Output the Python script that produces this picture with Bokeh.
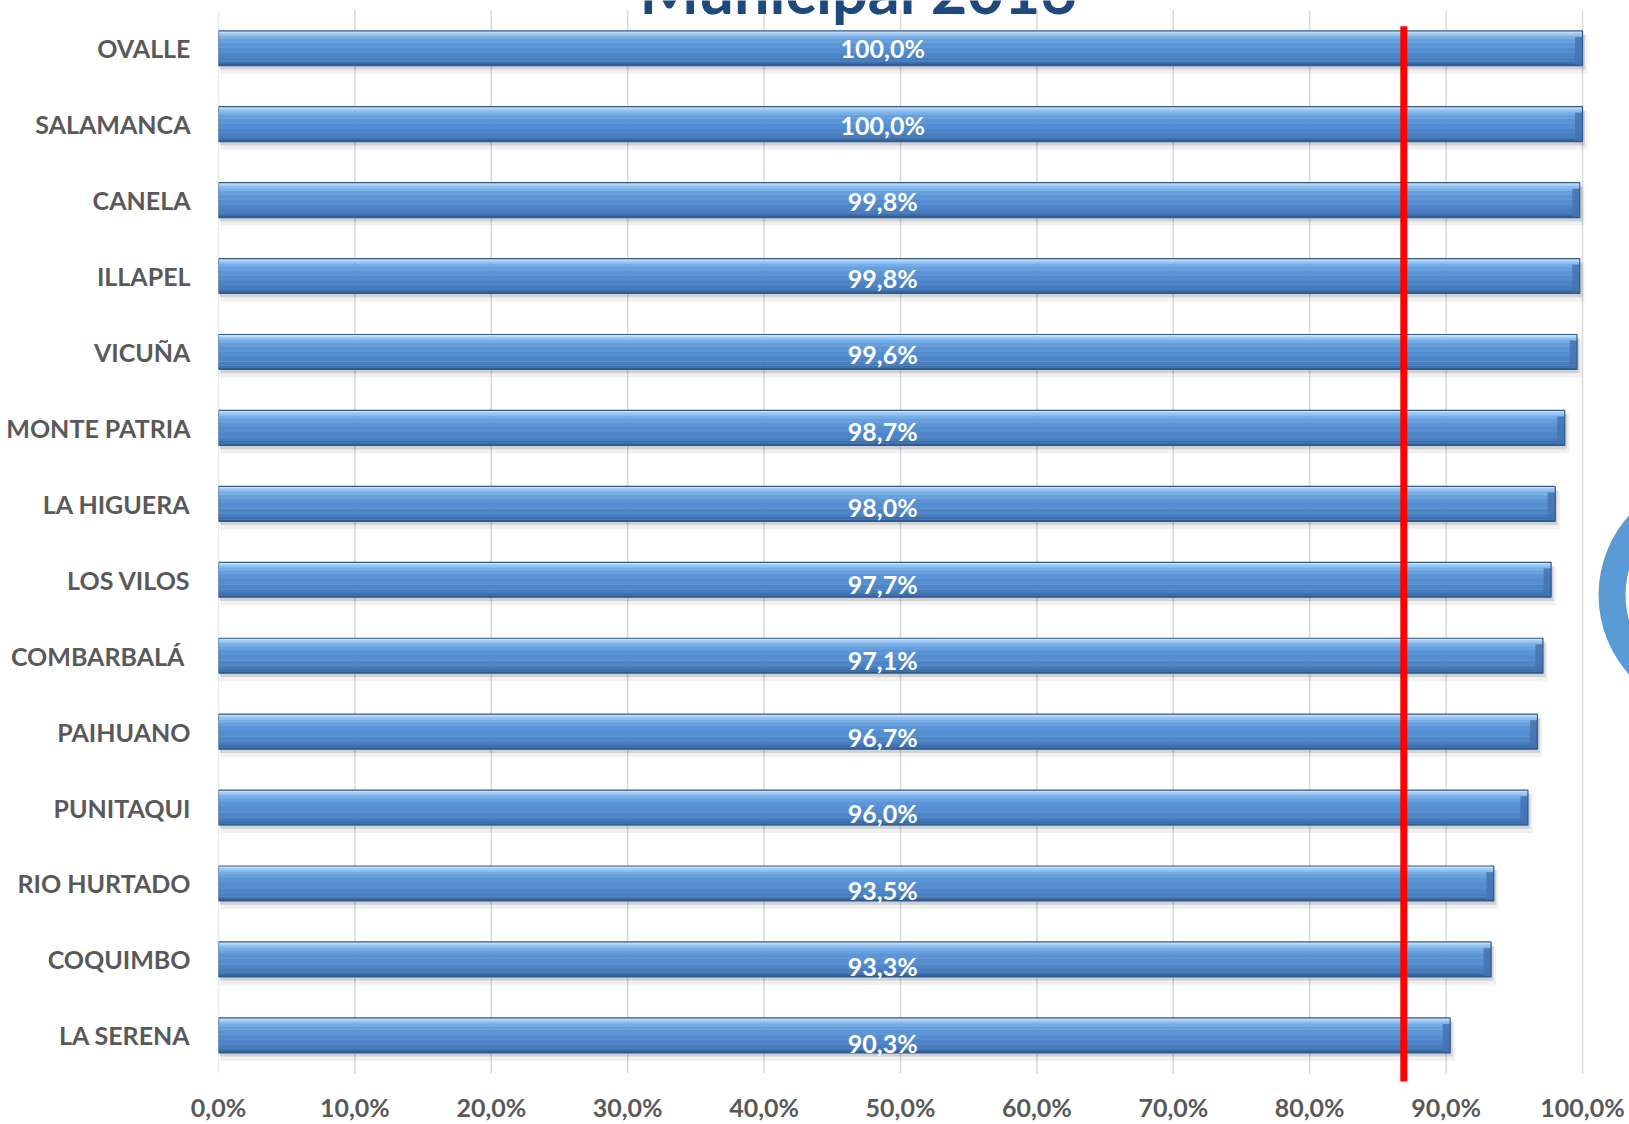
from bokeh.plotting import figure
from bokeh.models import Range1d, FixedTicker, Label
from bokeh.core.properties import value
from bokeh.embed import file_html
from bokeh.resources import INLINE

# ---- data ----
comunas = ["OVALLE", "SALAMANCA", "CANELA", "ILLAPEL", "VICUÑA", "MONTE PATRIA",
           "LA HIGUERA", "LOS VILOS", "COMBARBALÁ ", "PAIHUANO", "PUNITAQUI",
           "RIO HURTADO", "COQUIMBO", "LA SERENA"]
valores = [100.0, 100.0, 99.8, 99.8, 99.6, 98.7, 98.0, 97.7, 97.1, 96.7, 96.0, 93.5, 93.3, 90.3]
etiquetas = [f"{v:.1f}".replace(".", ",") + "%" for v in valores]
x_ticks = [0, 10, 20, 30, 40, 50, 60, 70, 80, 90, 100]
x_tick_labels = ["0,0%", "10,0%", "20,0%", "30,0%", "40,0%", "50,0%", "60,0%",
                 "70,0%", "80,0%", "90,0%", "100,0%"]
meta = 86.9
titulo = "Municipal 2016"

# ---- layout constants ----
W, H = 1629, 1124
LEFT = 218
ROW_PX = 76.0
FIRST_ROW_PX = 47.8      # canvas y of first row centre
FRAME_BOTTOM = 1082.0    # expected canvas y of frame bottom
PX_PER_UNIT = 13.64
X_END = (W - LEFT) / PX_PER_UNIT
Y_TOP = -FIRST_ROW_PX / ROW_PX
Y_BOTTOM = (FRAME_BOTTOM - FIRST_ROW_PX) / ROW_PX

n = len(comunas)
idx = list(range(n))

p = figure(width=W, height=H, output_backend="svg", toolbar_location=None,
           x_range=Range1d(0, X_END), y_range=Range1d(Y_BOTTOM, Y_TOP),
           min_border_left=LEFT, min_border_right=0, min_border_top=0, min_border_bottom=0)
p.outline_line_color = None
p.grid.visible = False
p.background_fill_color = "white"

FONT = "Lato"
for ax in (p.xaxis, p.yaxis):
    ax.axis_line_color = None
    ax.major_tick_line_color = None
    ax.minor_tick_line_color = None
    ax.major_label_text_font = FONT
    ax.major_label_text_font_style = "bold"
    ax.major_label_text_font_size = "25px"
    ax.major_label_text_color = "#595959"

p.xaxis.ticker = FixedTicker(ticks=x_ticks)
p.xaxis.major_label_overrides = {t: l for t, l in zip(x_ticks, x_tick_labels)}
p.xaxis.major_label_standoff = 4
p.yaxis.ticker = FixedTicker(ticks=idx)
p.yaxis.major_label_overrides = {i: c for i, c in zip(idx, comunas)}
p.yaxis.major_label_standoff = 22

# gridlines
p.segment(x0=x_ticks, y0=[-0.5] * len(x_ticks), x1=x_ticks, y1=[n - 0.5] * len(x_ticks),
          line_color="#D9D9D9", line_width=1.5)

# bars
BH = 0.46
# shadows
p.hbar(y=[i + 0.08 for i in idx], left=0.15, right=[v + 0.35 for v in valores], height=BH + 0.05,
       fill_color="black", fill_alpha=0.06, line_color=None)
p.hbar(y=[i + 0.05 for i in idx], left=0.1, right=[v + 0.18 for v in valores], height=BH,
       fill_color="black", fill_alpha=0.12, line_color=None)

strips = [(0.00, 0.05, "#C6E2FB"), (0.05, 0.10, "#A6CDF6"), (0.10, 0.16, "#8BBDF0"),
          (0.16, 0.24, "#76AEE8"), (0.24, 0.34, "#66A0DF"), (0.34, 0.48, "#5B95D7"),
          (0.48, 0.64, "#548DD0"), (0.64, 0.78, "#4D85C8"), (0.78, 0.88, "#477CBD"),
          (0.88, 0.95, "#3F6FAB"), (0.95, 1.00, "#355E93")]
for t0, t1, col in strips:
    yc = [i - BH / 2 + (t0 + t1) / 2 * BH for i in idx]
    p.hbar(y=yc, left=0, right=valores, height=(t1 - t0) * BH + 0.003,
           fill_color=col, line_color=None)

# right-end bevel face
p.hbar(y=[i + 0.035 for i in idx], left=[v - 0.55 for v in valores], right=valores,
       height=BH * 0.8, fill_color="#4573B0", fill_alpha=0.85, line_color=None)
# outline
p.hbar(y=idx, left=0, right=valores, height=BH, fill_color=None,
       line_color="#2F5A8C", line_width=1.2)

# target line
p.segment(x0=[meta], y0=[-0.29], x1=[meta], y1=[13.63], line_color="#FF0000", line_width=7)

# value labels
p.text(x=[48.7] * n, y=[i * 1.0074 for i in idx], text=etiquetas,
       text_font=value(FONT), text_font_style="bold", text_font_size="25px",
       text_color="white", text_align="center", text_baseline="middle")

# cropped ring at the right edge
p.annulus(x=[109.9], y=[7.2], inner_radius=92, outer_radius=119,
          inner_radius_units="screen", outer_radius_units="screen",
          fill_color="#5B9BD5", line_color=None)

# title, cut by the top edge
p.add_layout(Label(x=46.9, y=Y_TOP - 11 / ROW_PX, text=titulo, text_font=FONT,
                   text_font_style="bold", text_font_size="63px", text_color="#1F497D",
                   text_align="center", text_baseline="alphabetic"))

open("out.html", "w").write(file_html(p, INLINE))
